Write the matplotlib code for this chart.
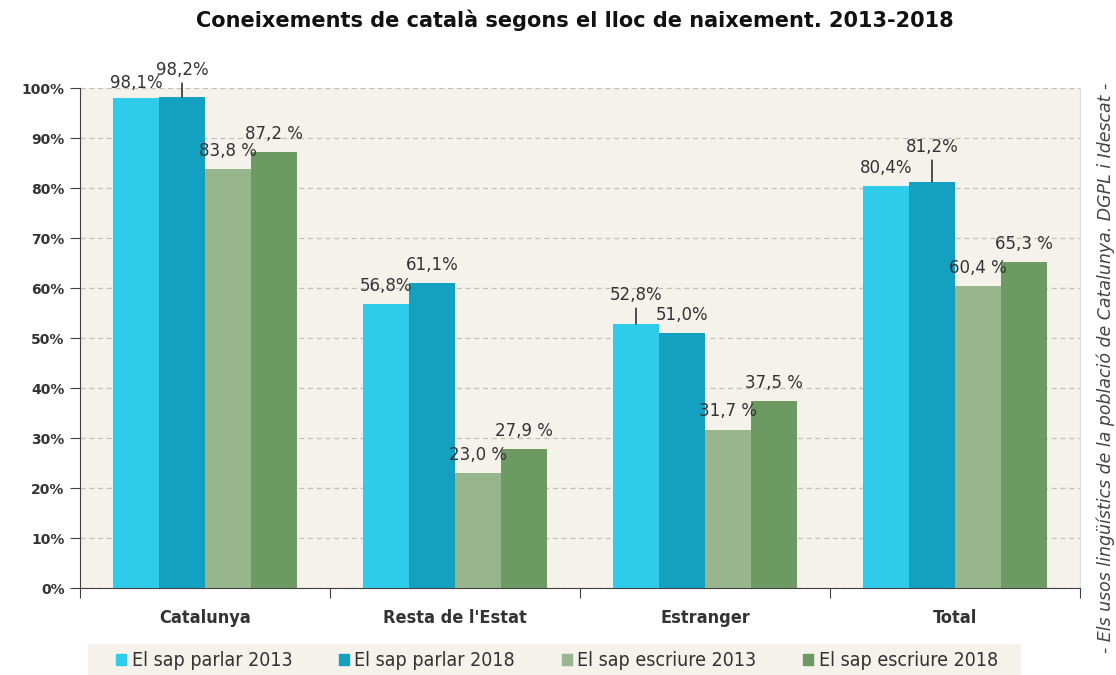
import matplotlib
matplotlib.use('Agg')
import numpy as np
import matplotlib.pyplot as plt
from matplotlib.patches import Patch, Rectangle

# Data
categories = ['Catalunya', "Resta de l'Estat", 'Estranger', 'Total']
series_names = ['El sap parlar 2013', 'El sap parlar 2018',
                'El sap escriure 2013', 'El sap escriure 2018']
parlar_2013 = [98.1, 56.8, 52.8, 80.4]
parlar_2018 = [98.2, 61.1, 51.0, 81.2]
escriure_2013 = [83.8, 23.0, 31.7, 60.4]
escriure_2018 = [87.2, 27.9, 37.5, 65.3]
yticks = [0, 10, 20, 30, 40, 50, 60, 70, 80, 90, 100]

series = [parlar_2013, parlar_2018, escriure_2013, escriure_2018]
colors = ['#2ECBEA', '#14A1C1', '#97B68E', '#6D9962']
bg = '#F5F1EB'
txt = '#333333'

# label offset above the bar top (pixels); leader lines on a few
default_off = 18
special_off = {(0, 0): 15, (1, 0): 27, (0, 2): 29, (1, 3): 35}
leaders = {(1, 0), (0, 2), (1, 3)}

fig = plt.figure(figsize=(11.16, 6.75), dpi=100)
ax = fig.add_axes([80 / 1116, 87 / 675, 1000 / 1116, 500 / 675])
ax.set_facecolor(bg)

x = np.arange(len(categories))
w = 0.184
for j, vals in enumerate(series):
    pos = x + (j - 1.5) * w
    ax.bar(pos, vals, width=w, color=colors[j], zorder=3, label=series_names[j])
    for i, v in enumerate(vals):
        s = f'{v:.1f}'.replace('.', ',')
        s = s + '%' if j < 2 else s + ' %'
        off = special_off.get((j, i), default_off)
        kw = {}
        if (j, i) in leaders:
            kw['arrowprops'] = dict(arrowstyle='-', color='#222222', lw=1.1,
                                    shrinkA=1, shrinkB=0)
        ax.annotate(s, xy=(pos[i], v), xytext=(0, off), textcoords='offset pixels',
                    ha='center', va='center', fontsize=12, color=txt,
                    zorder=5, annotation_clip=False, **kw)

ax.set_xlim(-0.5, 3.5)
ax.set_ylim(0, 100)
ax.set_yticks(yticks)
ax.set_yticklabels([f'{t}%' for t in yticks], fontsize=10, fontweight='bold', color=txt)
ax.yaxis.grid(True, linestyle=(0, (4, 3)), color='#C4C0BA', lw=0.9, zorder=0)

ax.set_xticks([-0.5, 0.5, 1.5, 2.5, 3.5])
ax.set_xticklabels([])
ax.set_xticks(x, minor=True)
ax.set_xticklabels(categories, minor=True, fontsize=13, fontweight='bold',
                   color=txt, fontstretch='condensed')
ax.tick_params(axis='x', which='major', length=7, direction='out', color='#404040')
ax.tick_params(axis='x', which='minor', length=0, pad=15)
ax.tick_params(axis='y', length=7, direction='out', color='#404040', pad=4)

ax.spines['top'].set_visible(False)
ax.spines['right'].set_color('#DDDDDD')
ax.spines['left'].set_color('#404040')
ax.spines['bottom'].set_color('#404040')

fig.text(575 / 1116, 1 - 20 / 675, 'Coneixements de català segons el lloc de naixement. 2013-2018',
         ha='center', va='center', fontsize=15, fontweight='bold', color='#111111')

fig.text(1106 / 1116, 1 - 368 / 675,
         '- Els usos lingüístics de la població de Catalunya. DGPL i Idescat -',
         rotation=90, ha='center', va='center', fontsize=12.5, style='italic',
         color='#444444')

# legend background strip
fig.patches.append(Rectangle((88 / 1116, 0), 932 / 1116, 31 / 675,
                             transform=fig.transFigure, color=bg, zorder=0))
handles = [Patch(color=c) for c in colors]
fig.legend(handles, series_names, loc='center', ncol=4, frameon=False,
           bbox_to_anchor=(557 / 1116, 14 / 675), bbox_transform=fig.transFigure,
           handlelength=0.5, handleheight=0.5, handletextpad=0.3,
           columnspacing=2.4, labelcolor=txt,
           prop={'size': 14, 'stretch': 'condensed'})

fig.savefig('out.png', dpi=100, facecolor='white')
